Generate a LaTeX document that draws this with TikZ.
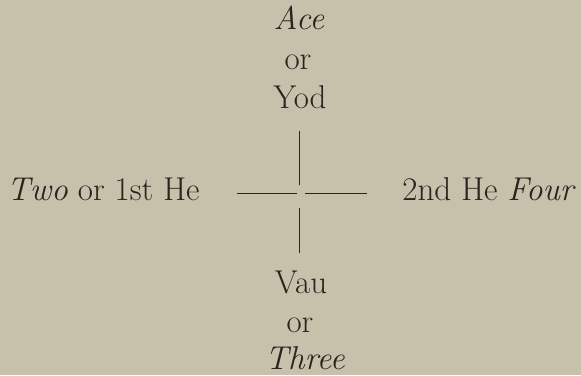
\documentclass[tikz,border=0pt]{standalone}
\usepackage{tikz}
\usetikzlibrary{positioning}

\definecolor{paper}{RGB}{199,193,172}
\definecolor{ink}{RGB}{40,36,31}

\begin{document}
\begin{tikzpicture}[
    x=0.5pt,
    y=0.5pt,
    word/.style={font=\fontsize{16.5}{19}\selectfont, text=ink, inner sep=0pt, anchor=base},
    arm/.style={draw=ink, line width=0.5pt}
]
\fill[paper] (0,0) rectangle (581,375);

\node[word] (ace) at (299,345) {\textit{Ace}};
\node[word] (or1) at (298,305) {or};
\node[word] (yod) at (300,266) {Yod};

\node[word,anchor=base east] (two) at (200,175) {\textit{Two} or 1st He};
\node[word,anchor=base west] (four) at (402,175) {2nd He \textit{Four}};

\node[word] (vau) at (301,82) {Vau};
\node[word] (or2) at (300,43) {or};
\node[word] (three) at (305,6) {\textit{Three}};

\coordinate (c) at (299,181);
\coordinate (top) at (299,244);
\coordinate (bot) at (299,122);
\coordinate (lft) at (237,181);
\coordinate (rgt) at (367,181);

\draw[arm,shorten >=4.5pt] (top) -- (c);
\draw[arm,shorten >=7pt] (bot) -- (c);
\draw[arm,shorten >=1pt] (lft) -- (c);
\draw[arm,shorten >=3pt] (rgt) -- (c);
\end{tikzpicture}
\end{document}
